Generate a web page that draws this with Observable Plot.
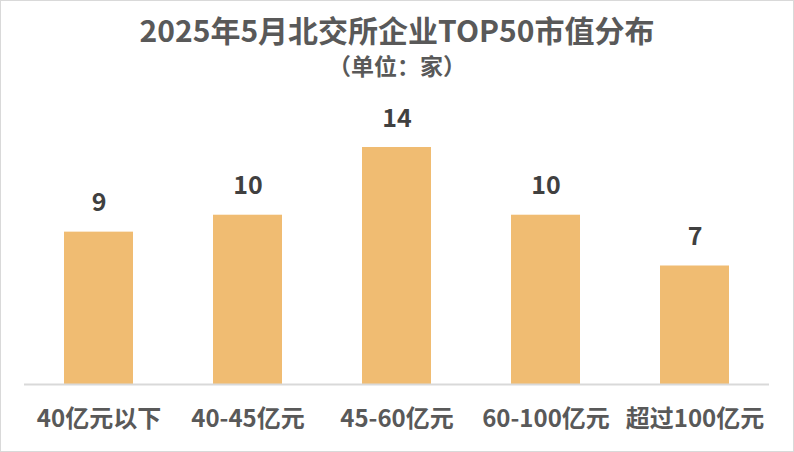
<!DOCTYPE html>
<html><head><meta charset="utf-8">
<script src="https://cdn.jsdelivr.net/npm/d3@7"></script>
<script src="https://cdn.jsdelivr.net/npm/@observablehq/plot@0.6"></script>
<style>
html,body{margin:0;padding:0;background:#fff;}
#wrap{position:relative;width:794px;height:452px;box-sizing:border-box;border:1px solid #d9d9d9;background:#fff;overflow:hidden;font-family:"Noto Sans CJK SC","Noto Sans",sans-serif;}
#title{position:absolute;left:0;right:0;top:10px;line-height:36px;text-align:center;font-size:30px;font-weight:bold;color:#595959;}
#sub{position:absolute;left:0;right:0;top:51px;line-height:26px;text-align:center;font-size:23px;font-weight:bold;color:#595959;}
#chart{position:absolute;left:0;top:79px;}
</style></head>
<body>
<div id="wrap">
  <div id="title">2025年5月北交所企业TOP50市值分布</div>
  <div id="sub">（单位：家）</div>
  <div id="chart"></div>
</div>
<script>
const categories = ["40亿元以下", "40-45亿元", "45-60亿元", "60-100亿元", "超过100亿元"];
const counts = [9, 10, 14, 10, 7];
const data = categories.map((c, i) => ({cat: c, n: counts[i]}));

const chart = Plot.plot({
  width: 792,
  height: 371,
  marginLeft: 23,
  marginRight: 24,
  marginTop: 67,
  marginBottom: 67,
  style: {fontFamily: '"Noto Sans CJK SC","Noto Sans",sans-serif', background: "transparent"},
  x: {domain: categories, paddingInner: 0.54, paddingOuter: 0.27, label: null},
  y: {domain: [0, 14], axis: null},
  marks: [
    Plot.barY(data, {x: "cat", y: "n", fill: "#F0BC72"}),
    Plot.ruleY([0], {stroke: "#d9d9d9", strokeWidth: 2}),
    Plot.axisX({tickSize: 0, tickPadding: 25, fontSize: 24, fontWeight: "bold", fill: "#595959", label: null}),
    Plot.text(data, {x: "cat", y: "n", text: d => String(d.n), dy: -29, lineAnchor: "middle", fontSize: 25, fontWeight: "bold", fill: "#404040"})
  ]
});
document.getElementById("chart").appendChild(chart);
</script>
</body></html>
